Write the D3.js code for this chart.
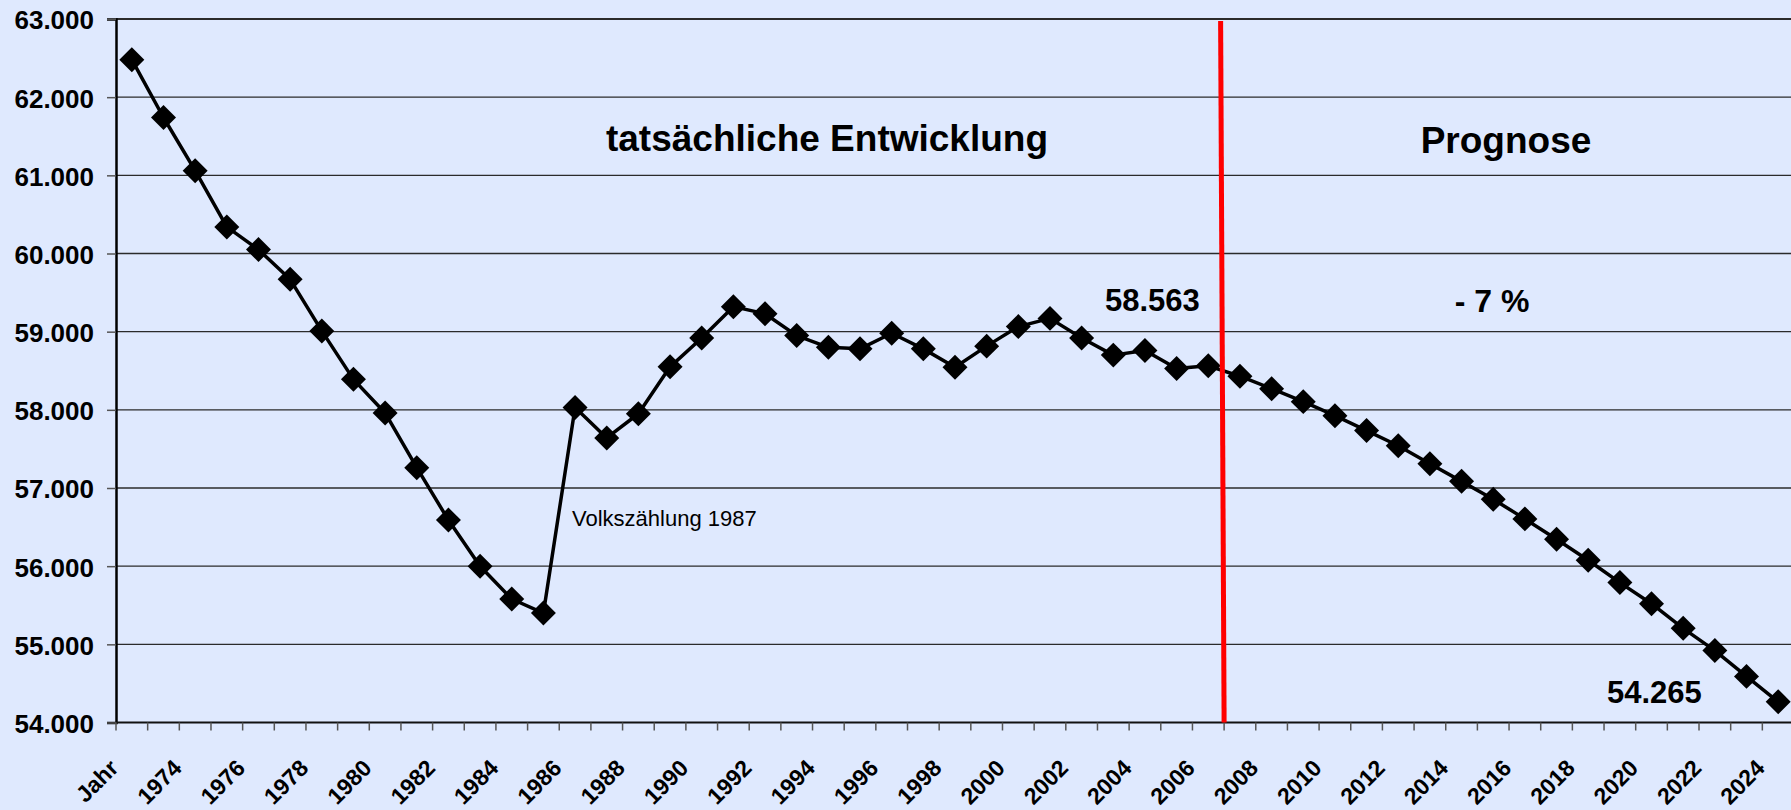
<!DOCTYPE html>
<html>
<head>
<meta charset="utf-8">
<script src="https://cdn.jsdelivr.net/npm/d3@7"></script>
<style>
    html, body { margin: 0; padding: 0; background: #dfe9fe; }
    svg { display: block; font-family: Arial, "Liberation Sans", sans-serif; }
</style>
</head>
<body>
<div id="container"></div>
<script>
"use strict"

// categories as they appear on the x axis (first one is the column header "Jahr")
const categories = [
    "Jahr", "1973", "1974", "1975", "1976", "1977", "1978", "1979", "1980", "1981",
    "1982", "1983", "1984", "1985", "1986", "1987", "1988", "1989", "1990", "1991",
    "1992", "1993", "1994", "1995", "1996", "1997", "1998", "1999", "2000", "2001",
    "2002", "2003", "2004", "2005", "2006", "2007", "2008", "2009", "2010", "2011",
    "2012", "2013", "2014", "2015", "2016", "2017", "2018", "2019", "2020", "2021",
    "2022", "2023", "2024"
];

// population values
const population = [
    62480, 61740, 61060, 60340, 60050, 59670, 59010, 58390, 57960, 57260,
    56590, 56000, 55580, 55400, 58030, 57640, 57950, 58550, 58920, 59320,
    59230, 58950, 58800, 58780, 58980, 58780, 58545, 58815, 59065, 59170,
    58920, 58700, 58760, 58530, 58563, 58430, 58270, 58105, 57925, 57735,
    57540, 57310, 57085, 56855, 56605, 56345, 56075, 55790, 55520, 55205,
    54920, 54590, 54265
];

const yTicks = [54000, 55000, 56000, 57000, 58000, 59000, 60000, 61000, 62000, 63000];
const xTickLabels = categories.filter((_, i) => i % 2 == 0);
const forecastStart = "2007";

const width = 1791;
const height = 810;
const plotLeft = 116;
const plotRight = 1794;
const plotTop = 19;
const plotBottom = 722.5;
const fmt = d3.formatLocale({ decimal: ",", thousands: ".", grouping: [3] }).format(",d");

const svg = d3.select("#container").append("svg")
    .attr("width", width)
    .attr("height", height);

svg.append("rect")
    .attr("width", width)
    .attr("height", height)
    .attr("fill", "#dfe9fe");

const x = d3.scaleBand()
    .domain(categories)
    .range([plotLeft, plotRight]);

const y = d3.scaleLinear()
    .domain([54000, 63000])
    .range([plotBottom, plotTop]);

const cx = (c) => x(c) + x.bandwidth() / 2;

// gridlines
svg.append("g")
    .selectAll("line")
    .data(yTicks.slice(1))
    .enter()
    .append("line")
    .attr("x1", plotLeft)
    .attr("x2", plotRight)
    .attr("y1", d => y(d))
    .attr("y2", d => y(d))
    .attr("stroke", "#2b2b2b")
    .attr("stroke-width", d => d == 63000 ? 2 : 1.3);

// y axis
const yAxis = svg.append("g")
    .attr("transform", `translate(${plotLeft},0)`)
    .call(d3.axisLeft(y).tickValues(yTicks).tickSize(9).tickPadding(13).tickFormat(fmt));
yAxis.select(".domain")
    .attr("stroke", "#000")
    .attr("stroke-width", 2.5);
yAxis.selectAll(".tick line").attr("stroke", "#555").attr("stroke-width", 1.5);
yAxis.selectAll(".tick text")
    .attr("fill", "#000")
    .attr("font-size", 26)
    .attr("font-weight", "bold")
    .attr("font-family", "Arial, 'Liberation Sans', sans-serif")
    .attr("dy", "0.38em");

// x axis: ticks at category boundaries
const boundaries = categories.map(c => x(c)).concat([plotRight]);
svg.append("line")
    .attr("x1", plotLeft)
    .attr("x2", plotRight)
    .attr("y1", plotBottom)
    .attr("y2", plotBottom)
    .attr("stroke", "#111")
    .attr("stroke-width", 2.2);

svg.append("g")
    .selectAll("line")
    .data(boundaries)
    .enter()
    .append("line")
    .attr("x1", d => d)
    .attr("x2", d => d)
    .attr("y1", plotBottom)
    .attr("y2", plotBottom + 8)
    .attr("stroke", "#555")
    .attr("stroke-width", 1.5);

svg.append("g")
    .selectAll("text")
    .data(xTickLabels)
    .enter()
    .append("text")
    .attr("transform", d => `translate(${cx(d) - 12},${plotBottom + 47}) rotate(-45)`)
    .attr("text-anchor", "end")
    .attr("font-size", 23)
    .attr("font-weight", "bold")
    .attr("fill", "#000")
    .text(d => d);

// line + diamond markers
const line = d3.line()
    .x((d, i) => cx(categories[i]))
    .y(d => y(d));

svg.append("path")
    .datum(population)
    .attr("d", line)
    .attr("fill", "none")
    .attr("stroke", "#000")
    .attr("stroke-width", 3.5)
    .attr("stroke-linejoin", "round");

const diamond = d3.symbol().type(d3.symbolSquare).size(312);
svg.append("g")
    .selectAll("path")
    .data(population)
    .enter()
    .append("path")
    .attr("d", diamond)
    .attr("transform", (d, i) => `translate(${cx(categories[i])},${y(d)}) rotate(45)`)
    .attr("fill", "#000");

// red separator between actual data and forecast
const sepX = x(forecastStart);
svg.append("line")
    .attr("x1", sepX - 3.5)
    .attr("x2", sepX)
    .attr("y1", plotTop + 2)
    .attr("y2", plotBottom)
    .attr("stroke", "#ff0000")
    .attr("stroke-width", 5);

// annotations
function AddText(txt, px, py, size, weight, anchor)
{
    svg.append("text")
        .attr("x", px)
        .attr("y", py)
        .attr("font-size", size)
        .attr("font-weight", weight)
        .attr("text-anchor", anchor)
        .attr("fill", "#000")
        .text(txt);
}

AddText("tatsächliche Entwicklung", 827, 151, 37, "bold", "middle");
AddText("Prognose", 1506, 153, 37, "bold", "middle");
AddText("- 7 %", 1492, 312, 32, "bold", "middle");
AddText(fmt(population[categories.indexOf("2006")]), 1105, 311, 31, "bold", "start");
AddText(fmt(population[population.length - 1]), 1607, 703, 31, "bold", "start");
AddText("Volkszählung 1987", 572, 526, 22, "normal", "start");
</script>
</body>
</html>
